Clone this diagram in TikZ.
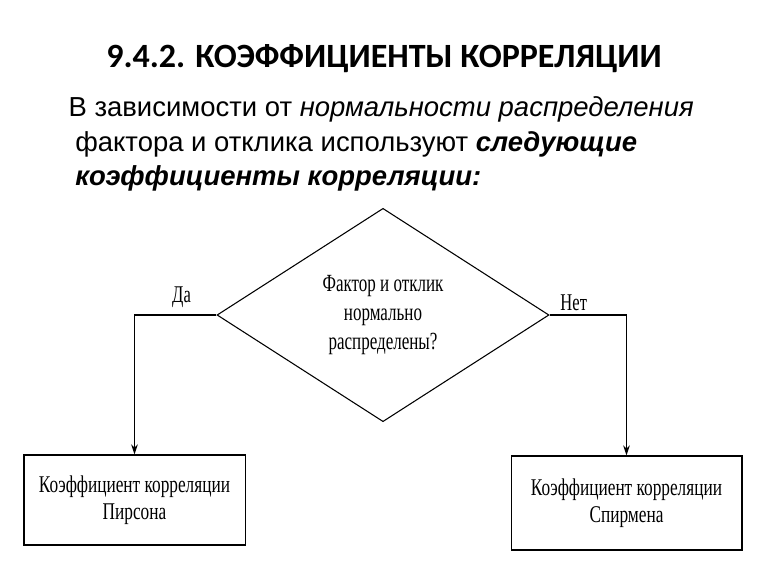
\documentclass[tikz,border=0pt]{standalone}
\usepackage{fontspec}
\setmainfont{Liberation Sans}
\newfontfamily\headfont{Carlito}
\newfontfamily\chartfont[FakeStretch=0.69]{Liberation Serif}
\newfontfamily\boxfont[FakeStretch=0.72]{Liberation Serif}
\usetikzlibrary{shapes.geometric,arrows.meta,positioning}

\begin{document}
\begin{tikzpicture}[x=0.75pt,y=-0.75pt,
    every node/.style={inner sep=0pt},
    question/.style={diamond,draw,line width=0.8pt,aspect=1.56,minimum width=249pt,minimum height=160pt,align=center,font=\chartfont\fontsize{18.5}{21.8}\selectfont},
    coeff/.style={rectangle,draw,line width=1pt,align=center,font=\boxfont\fontsize{18}{20.5}\selectfont},
    answer/.style={font=\chartfont\fontsize{18}{20}\selectfont},
    link/.style={line width=0.8pt,-{Stealth[length=7.5pt,width=5pt]}}]
    \useasboundingbox (0,0) rectangle (768,576);

    % Heading and lead text
    \node (title) at (384,59) {\headfont\bfseries\fontsize{25.5}{30}\selectfont 9.4.2. КОЭФФИЦИЕНТЫ КОРРЕЛЯЦИИ};
    \node[anchor=north west,align=left,font=\fontsize{20.6}{25.8}\selectfont] (lead) at (75,96.5)
        {\hspace*{-5pt}В зависимости от \textit{нормальности распределения}\\%
         фактора и отклика используют \textbf{\textit{следующие}}\\%
         \textbf{\textit{коэффициенты корреляции:}}};

    % Decision and outcomes
    \node[question] (q) at (383,315) {Фактор и отклик\\нормально\\распределены?};
    \node[coeff,minimum width=166pt,minimum height=67.5pt] (pearson) at (134.5,500) {Коэффициент корреляции\\Пирсона};
    \node[coeff,minimum width=173pt,minimum height=70.5pt] (spearman) at (626.5,503) {Коэффициент корреляции\\Спирмена};

    % Branches
    \draw[link] (q.west) -| (pearson.north);
    \draw[link] (q.east) -| (spearman.north);
    \node[answer,above left=5pt and 19pt of q.west] (yes) {Да};
    \node[answer,above right=3pt and 8pt of q.east] (no) {Нет};
\end{tikzpicture}
\end{document}
